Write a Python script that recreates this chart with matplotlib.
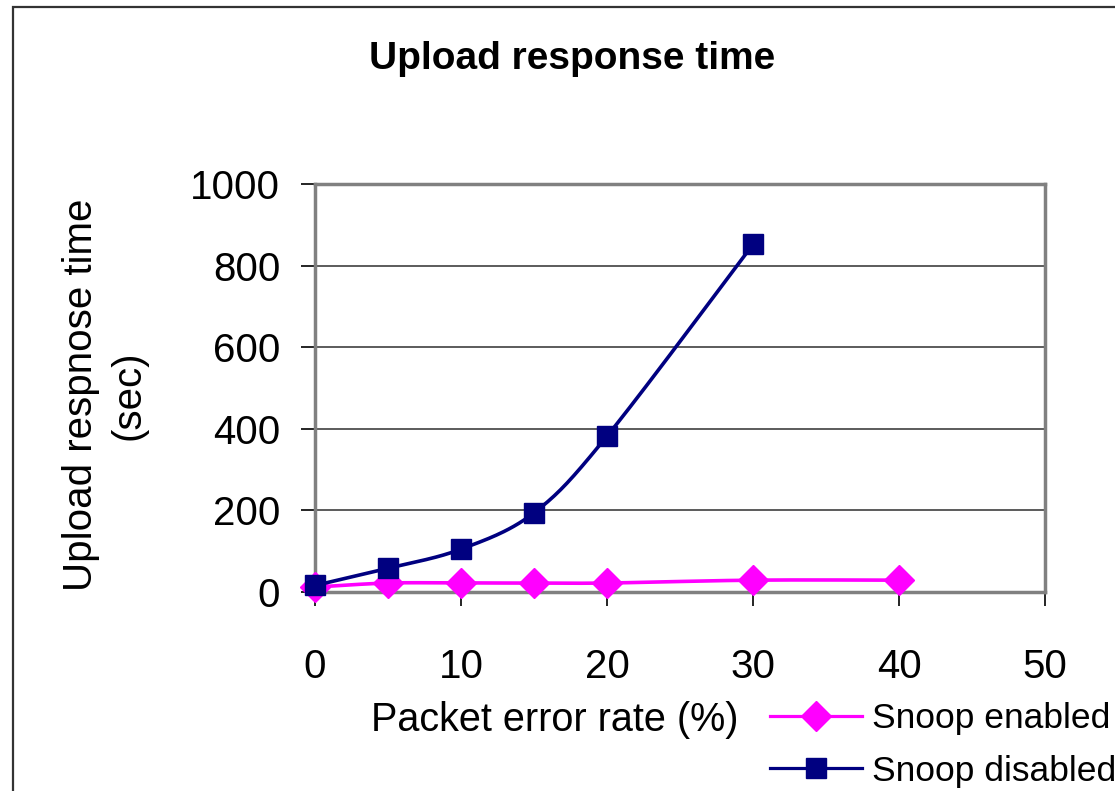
import numpy as np
import matplotlib.pyplot as plt
from matplotlib.patches import Rectangle

plt.rcParams['font.family'] = ['Liberation Sans', 'DejaVu Sans']

# data
x_disabled = [0, 5, 10, 15, 20, 30]
y_disabled = [16, 58, 105, 194, 382, 852]
x_enabled = [0, 5, 10, 15, 20, 30, 40]
y_enabled = [12, 22, 22, 22, 22, 29, 29]

x_ticks = [0, 10, 20, 30, 40, 50]
y_ticks = [0, 200, 400, 600, 800, 1000]


def smooth(xs, ys, n=30):
    # Catmull-Rom style bezier smoothing (like Excel's "smoothed line")
    xs = np.asarray(xs, float)
    ys = np.asarray(ys, float)
    px, py = [], []
    for i in range(len(xs) - 1):
        i0 = max(i - 1, 0)
        i3 = min(i + 2, len(xs) - 1)
        p0 = np.array([xs[i], ys[i]])
        p3 = np.array([xs[i + 1], ys[i + 1]])
        p1 = p0 + (np.array([xs[i + 1], ys[i + 1]]) - np.array([xs[i0], ys[i0]])) / 6
        p2 = p3 - (np.array([xs[i3], ys[i3]]) - np.array([xs[i], ys[i]])) / 6
        t = np.linspace(0, 1, n)[:, None]
        b = ((1 - t) ** 3) * p0 + 3 * ((1 - t) ** 2) * t * p1 + 3 * (1 - t) * t ** 2 * p2 + t ** 3 * p3
        px.extend(b[:, 0])
        py.extend(b[:, 1])
    return px, py


fig = plt.figure(figsize=(11.15, 7.91), dpi=100)
ax = fig.add_axes([315 / 1115, 1 - 592 / 791, 730 / 1115, 408 / 791])

navy = '#000080'
magenta = '#ff00ff'

sx, sy = smooth(x_enabled, y_enabled)
ax.plot(sx, sy, color=magenta, lw=2.6, zorder=3, clip_on=False)
ax.plot(x_enabled, y_enabled, ls='none', marker='D', ms=15, color=magenta, zorder=4, clip_on=False)

sx, sy = smooth(x_disabled, y_disabled)
ax.plot(sx, sy, color=navy, lw=2.6, zorder=5, clip_on=False)
ax.plot(x_disabled, y_disabled, ls='none', marker='s', ms=14.5, color=navy, zorder=6, clip_on=False)

# legend handles
h1, = ax.plot([], [], color=magenta, lw=2.3, marker='D', ms=15, label='Snoop enabled')
h2, = ax.plot([], [], color=navy, lw=2.3, marker='s', ms=14.5, label='Snoop disabled')

ax.set_xlim(0, 50)
ax.set_ylim(0, 1000)
ax.set_xticks(x_ticks)
ax.set_yticks(y_ticks)
ax.tick_params(axis='both', labelsize=29, direction='out', length=10, width=1.2, color='black')
ax.tick_params(axis='y', pad=15)
ax.tick_params(axis='x', pad=30)
ax.yaxis.grid(True, color='#404040', lw=1.2)
ax.set_axisbelow(True)
for s in ax.spines.values():
    s.set_color('#808080')
    s.set_linewidth(2.5)

fig.text(572 / 1115, 1 - 59 / 791, 'Upload response time', ha='center', va='center',
         fontsize=28, fontweight='bold')
fig.text(555 / 1115, 1 - 720 / 791, 'Packet error rate (%)', ha='center', va='center', fontsize=28.5)
fig.text(105 / 1115, 1 - 395 / 791, 'Upload respnose time\n(sec)', ha='center', va='center',
         rotation=90, fontsize=29, linespacing=1.3)

fig.legend(handles=[h1, h2], loc='center left', bbox_to_anchor=(770 / 1115, 1 - 745 / 791),
           frameon=False, fontsize=25.5, handlelength=2.6, handletextpad=0.28,
           labelspacing=0.55, borderpad=0, borderaxespad=0)

# outer chart border (runs off the right and bottom edge)
fig.patches.append(Rectangle((13 / 1115, -0.05), 1.1, 1 - 7 / 791 + 0.05, transform=fig.transFigure,
                             fill=False, ec='#333333', lw=1.6))

fig.savefig('out.png', dpi=100)
